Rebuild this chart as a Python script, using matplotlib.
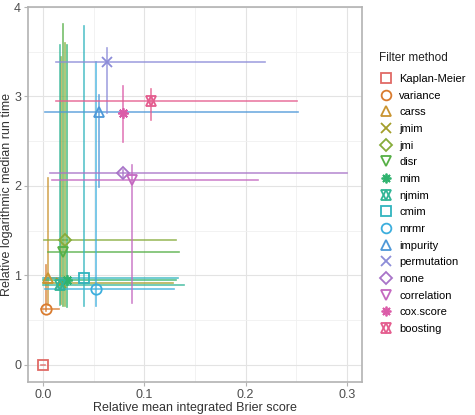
import matplotlib
matplotlib.use("Agg")
import matplotlib.pyplot as plt
from matplotlib.lines import Line2D
from matplotlib.legend_handler import HandlerTuple

plt.rcParams['font.family'] = ['Liberation Sans', 'DejaVu Sans']

methods = ["Kaplan-Meier", "variance", "carss", "jmim", "jmi", "disr", "mim", "njmim",
           "cmim", "mrmr", "impurity", "permutation", "none", "correlation", "cox.score", "boosting"]
x    = [0.000, 0.003, 0.005, 0.018, 0.022, 0.020, 0.024, 0.017, 0.040, 0.052, 0.055, 0.063, 0.079, 0.088, 0.079, 0.107]
y    = [0.00, 0.63, 0.97, 0.92, 1.40, 1.26, 0.95, 0.89, 0.97, 0.85, 2.83, 3.39, 2.14, 2.07, 2.82, 2.95]
xmin = [-0.002, -0.002, 0.002, 0.000, 0.001, 0.005, 0.000, 0.000, 0.000, 0.002, 0.002, 0.013, 0.007, 0.009, 0.076, 0.013]
xmax = [0.002, 0.016, 0.020, 0.128, 0.131, 0.134, 0.131, 0.139, 0.133, 0.129, 0.252, 0.219, 0.300, 0.212, 0.082, 0.251]
ymin = [0.00, 0.60, 0.67, 0.68, 0.66, 0.66, 0.65, 0.67, 0.66, 0.66, 1.99, 2.82, 2.10, 0.69, 2.49, 2.74]
ymax = [0.00, 1.12, 2.09, 3.44, 3.60, 3.81, 3.58, 3.58, 3.79, 3.39, 3.02, 3.54, 2.18, 2.23, 3.12, 3.08]

colors = ["#E06A66", "#D97B2E", "#C99430", "#A39E2A", "#86AC3A", "#55AF45", "#2FB36E", "#30B596",
          "#30B4BE", "#3CAEDD", "#4E98D8", "#8C8CD8", "#A874C8", "#C468C0", "#DB5CA8", "#E45C8E"]
shapes = ["s", "o", "^", "x", "D", "v", (8, 2, 0), "star", "s", "o", "^", "x", "D", "v", (8, 2, 0), "star"]

fig = plt.figure(figsize=(4.75, 4.15), dpi=100)
ax = fig.add_axes([28 / 475, 1 - 382 / 415, (362 - 28) / 475, (382 - 7) / 415])

# error bars
for i in range(len(methods)):
    ax.plot([xmin[i], xmax[i]], [y[i], y[i]], color=colors[i], lw=1.2, alpha=0.8, zorder=2)
    ax.plot([x[i], x[i]], [ymin[i], ymax[i]], color=colors[i], lw=1.2, alpha=0.8, zorder=2)

def marker_kw(shape, c, ms=7.5):
    kw = dict(ls="none", mfc="none", mec=c, mew=1.3, ms=ms)
    if shape == "D":
        kw["ms"] = ms - 1
    return kw

handles = []
for i in range(len(methods)):
    s = shapes[i]
    if s == "star":
        ax.plot(x[i], y[i], marker="^", zorder=3, **marker_kw(s, colors[i]))
        ax.plot(x[i], y[i], marker="v", zorder=3, **marker_kw(s, colors[i]))
        h = (Line2D([], [], marker="^", **marker_kw(s, colors[i], 7)),
             Line2D([], [], marker="v", **marker_kw(s, colors[i], 7)))
    else:
        ax.plot(x[i], y[i], marker=s, zorder=3, **marker_kw(s, colors[i]))
        h = Line2D([], [], marker=s, **marker_kw(s, colors[i], 7))
    handles.append(h)

ax.set_xlim(-0.015, 0.315)
ax.set_ylim(-0.19, 4.0)
ax.set_xticks([0.0, 0.1, 0.2, 0.3])
ax.set_xticklabels(["0.0", "0.1", "0.2", "0.3"])
ax.set_yticks([0, 1, 2, 3, 4])
ax.set_xticks([0.05, 0.15, 0.25], minor=True)
ax.set_yticks([0.5, 1.5, 2.5, 3.5], minor=True)
ax.grid(which="major", color="#E3E3E3", lw=0.8, zorder=0)
ax.grid(which="minor", color="#F0F0F0", lw=0.6, zorder=0)
ax.set_axisbelow(True)
ax.tick_params(which="minor", length=0)
ax.tick_params(which="major", length=3, color="#B3B3B3", labelsize=9, labelcolor="#4D4D4D", pad=2)
for sp in ax.spines.values():
    sp.set_color("#B3B3B3")
    sp.set_linewidth(1.2)

ax.set_xlabel("Relative mean integrated Brier score", fontsize=9, color="#333333", labelpad=1)
ax.set_ylabel("Relative logarithmic median run time", fontsize=9, color="#333333", labelpad=1)

fig.text(379 / 475, 1 - 58 / 415, "Filter method", fontsize=8.5, color="#222222", va="center", ha="left")
leg = fig.legend(handles, methods, loc="upper left", bbox_to_anchor=(379 / 475, 1 - 74 / 415),
                 frameon=False, fontsize=8,
                 handler_map={tuple: HandlerTuple(ndivide=1)}, handlelength=1.2,
                 handletextpad=0.6, labelspacing=0.6, borderaxespad=0, borderpad=0)

fig.savefig("out.png", dpi=100)
